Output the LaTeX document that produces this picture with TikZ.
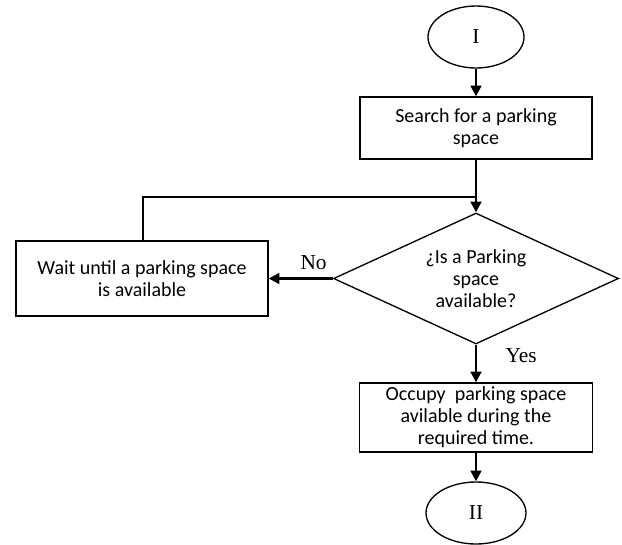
\documentclass[tikz,border=0pt]{standalone}
\usepackage{fontspec}
\setmainfont{Carlito}
\newfontfamily\labelfont{Liberation Serif}
\usepackage{tikz}
\usetikzlibrary{shapes.geometric,arrows.meta}
\tikzstyle{stepbox} = [draw=black, fill=white, line width=1pt, rectangle, align=center, inner sep=2pt, font=\fontsize{15}{16.5}\selectfont]
\tikzstyle{question} = [draw=black, fill=white, line width=1pt, diamond, aspect=2.2, align=center, inner sep=0pt, font=\fontsize{15}{16.5}\selectfont]
\tikzstyle{terminal} = [draw=black, fill=white, line width=1pt, ellipse, inner sep=0pt, font=\labelfont\fontsize{16}{18}\selectfont]
\tikzstyle{flow} = [line width=1.8pt, -{Triangle[length=8pt,width=8pt]}]
\tikzstyle{answer} = [font=\labelfont\fontsize{16}{18}\selectfont]

\begin{document}
\begin{tikzpicture}[x=0.75pt,y=-0.75pt]
\useasboundingbox (0,0) rectangle (622,544);
\node [terminal, minimum width=72pt, minimum height=46.5pt] (start) at (476,37) {I};
\node [stepbox, minimum width=174pt, minimum height=46.5pt] (search) at (476,128) {Search for a parking\\space};
\node [question, minimum width=213.75pt, minimum height=98.25pt] (check) at (476,278.5) {¿Is a Parking\\space\\available?};
\node [stepbox, minimum width=189pt, minimum height=56.25pt] (wait) at (142,278.5) {Wait until a parking space\\is available};
\node [stepbox, minimum width=174.75pt, minimum height=51.75pt] (occupy) at (476,417.5) {Occupy\ \ parking space\\avilable during the\\required time.};
\node [terminal, minimum width=75pt, minimum height=46.5pt] (stop) at (476,513) {II};
\coordinate (join) at (476,197);

\draw [flow] (start) -- (search);
\draw [flow] (search) -- (check);
\draw [line width=1.8pt] (wait.north -| 143,0) |- (join);
\draw [flow] (check.west) -- (wait.east) node [answer, pos=0.3, above=2pt] {No};
\draw [flow] (check.south) -- (occupy.north) node [answer, pos=0.3, right=18pt] {Yes};
\draw [flow] (occupy) -- (stop);
\end{tikzpicture}
\end{document}
